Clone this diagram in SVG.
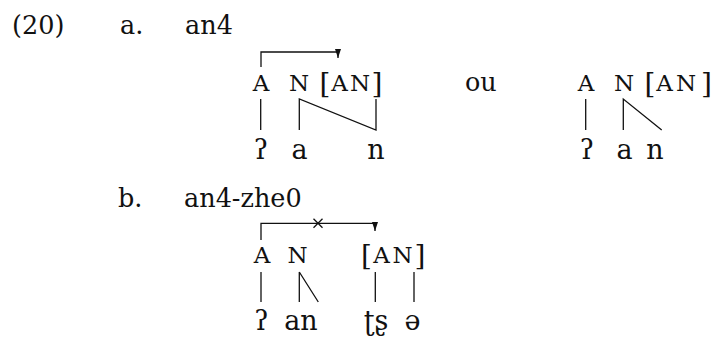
<svg xmlns="http://www.w3.org/2000/svg" width="717" height="340" viewBox="0 0 717 340">
<style>
text{font-family:"DejaVu Serif","Liberation Serif",serif;fill:#111}
.t{font-size:25.5px}
.c{font-size:23px;text-anchor:middle}
.br{font-size:28px}
.s{font-size:27px;text-anchor:middle}
.ln{stroke:#111;stroke-width:1.3;fill:none}
</style>
<defs>
<marker id="ah" markerUnits="userSpaceOnUse" markerWidth="8" markerHeight="10" refX="3" refY="9" orient="0" viewBox="0 0 6 10">
<path d="M0,0 L6,0 L3,9 Z" fill="#111"/>
</marker>
</defs>
<rect width="717" height="340" fill="#fff"/>
<g id="labels">
<text class="t" x="12" y="34">(20)</text>
<text class="t" x="120" y="34">a.</text>
<text class="t" x="185" y="34">an4</text>
<text class="t" x="118" y="207">b.</text>
<text class="t" x="184" y="207">an4-zhe0</text>
<text class="t" x="465" y="91">ou</text>
</g>
<g id="a1-tiers">
<text class="c" x="261" y="91">A</text>
<text class="c" x="299" y="91">N</text>
<text class="br" x="319.5" y="93">[</text>
<text class="c" x="339.5" y="91">A</text>
<text class="c" x="360" y="91">N</text>
<text class="br" x="371.5" y="93">]</text>
<text class="s" x="261" y="159">ʔ</text>
<text class="s" x="299.5" y="159">a</text>
<text class="s" x="376" y="159">n</text>
</g>
<g id="a2-tiers">
<text class="c" x="586" y="91">A</text>
<text class="c" x="624" y="91">N</text>
<text class="br" x="644.5" y="93">[</text>
<text class="c" x="664.5" y="91">A</text>
<text class="c" x="686" y="91">N</text>
<text class="br" x="701" y="93">]</text>
<text class="s" x="587" y="159">ʔ</text>
<text class="s" x="624.5" y="159">a</text>
<text class="s" x="655" y="159">n</text>
</g>
<g id="b-tiers">
<text class="c" x="262" y="263">A</text>
<text class="c" x="297.5" y="263">N</text>
<text class="br" x="361" y="265">[</text>
<text class="c" x="381.5" y="263">A</text>
<text class="c" x="402.5" y="263">N</text>
<text class="br" x="414.5" y="265">]</text>
<text class="s" x="261.5" y="330">ʔ</text>
<text class="s" x="301" y="330">an</text>
<text class="s" x="376" y="330">ʈʂ</text>
<text class="s" x="412.5" y="330">ə</text>
</g>
<g id="connectors">
<path class="ln" d="M261,67 V52 H338 V58" marker-end="url(#ah)"/>
<path class="ln" d="M260.7,99 V130 M299.3,130 V99 L376,130 V99"/>
<path class="ln" d="M585.7,99 V130 M623.3,130 V99 L661.7,130"/>
<path class="ln" d="M261,240 V223.3 H375 V231" marker-end="url(#ah)"/>
<path class="ln" d="M313.5,218.8 L322.5,227.8 M322.5,218.8 L313.5,227.8"/>
<path class="ln" d="M261,272 V302 M299.3,272 V302 M299.3,272 L318.3,302 M375.3,272 V302 M414,272 V302"/>
</g>
</svg>
